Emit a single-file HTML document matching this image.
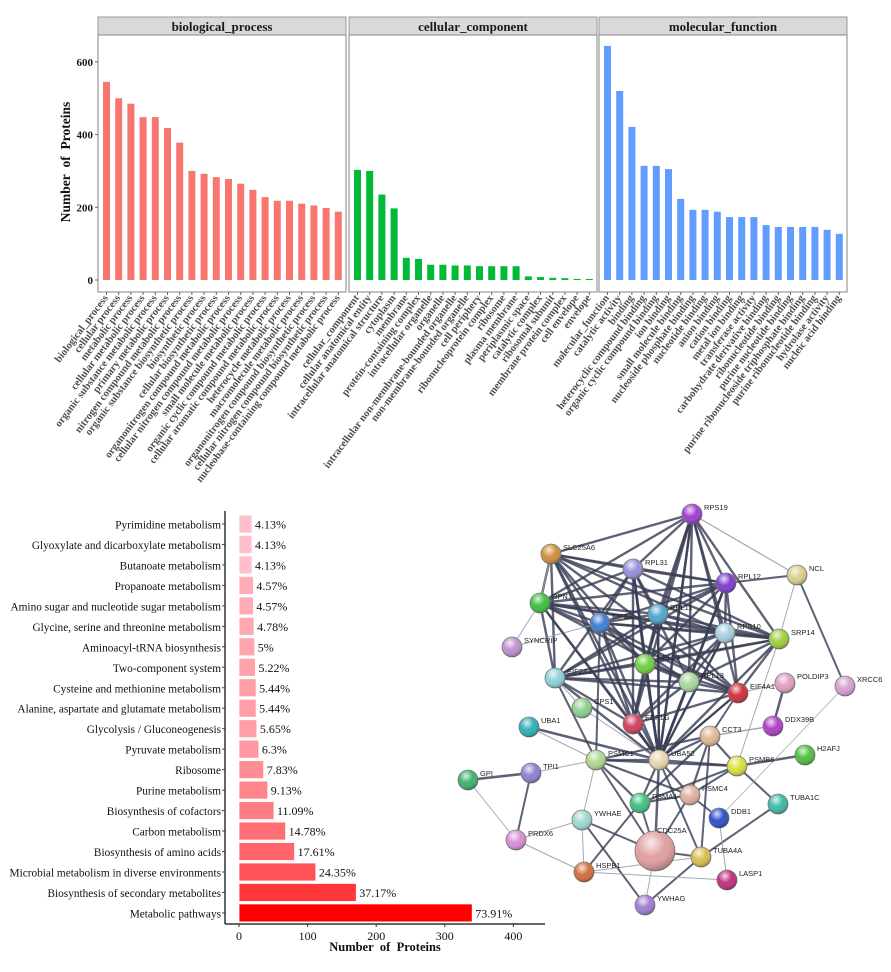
<!DOCTYPE html>
<html><head><meta charset="utf-8"><style>
html,body{margin:0;padding:0;background:#fff;}
svg{display:block;}
</style></head><body>
<svg id="s" width="891" height="972" xmlns="http://www.w3.org/2000/svg" font-family="Liberation Serif, serif"></svg>
<script>
const S=document.getElementById('s');let h='';
function t(x,y,s,o){h+=`<text x="${x}" y="${y}" ${o||''}>${s}</text>`;}
const y0=280,k=0.3635;
const panels=[
 {x:98,n:'biological_process',c:'#F8766D',v:[545,500,485,448,448,418,378,300,292,283,278,265,248,228,218,218,210,205,198,188],
  l:['biological_process','cellular process','metabolic process','cellular metabolic process','organic substance metabolic process','primary metabolic process','nitrogen compound metabolic process','organic substance biosynthetic process','biosynthetic process','cellular biosynthetic process','organonitrogen compound metabolic process','cellular nitrogen compound metabolic process','small molecule metabolic process','organic cyclic compound metabolic process','cellular aromatic compound metabolic process','heterocycle metabolic process','macromolecule metabolic process','organonitrogen compound biosynthetic process','cellular nitrogen compound biosynthetic process','nucleobase-containing compound metabolic process']},
 {x:349,n:'cellular_component',c:'#00BA38',v:[303,300,235,197,61,58,42,42,40,40,38,38,38,38,10,8,6,5,3,3],
  l:['cellular_component','cellular anatomical entity','intracellular anatomical structure','cytoplasm','membrane','protein-containing complex','intracellular organelle','organelle','intracellular non-membrane-bounded organelle','non-membrane-bounded organelle','cell periphery','ribonucleoprotein complex','ribosome','plasma membrane','periplasmic space','catalytic complex','ribosomal subunit','membrane protein complex','cell envelope','envelope']},
 {x:599,n:'molecular_function',c:'#619CFF',v:[644,520,421,314,314,305,223,193,193,188,173,173,173,151,146,146,146,146,138,127],
  l:['molecular_function','catalytic activity','binding','heterocyclic compound binding','organic cyclic compound binding','ion binding','small molecule binding','nucleoside phosphate binding','nucleotide binding','anion binding','cation binding','metal ion binding','transferase activity','carbohydrate derivative binding','ribonucleotide binding','purine nucleotide binding','purine ribonucleoside triphosphate binding','purine ribonucleotide binding','hydrolase activity','nucleic acid binding']}];
for(const p of panels){
 const w=248;
 h+=`<rect x="${p.x}" y="17" width="${w}" height="18" fill="#d9d9d9" stroke="#999" stroke-width="1"/>`;
 t(p.x+w/2,31,p.n,'text-anchor="middle" font-size="13" font-weight="bold" fill="#1a1a1a"');
 h+=`<rect x="${p.x}" y="35" width="${w}" height="257" fill="#fff" stroke="#999" stroke-width="1.2"/>`;
 p.v.forEach((v,i)=>{const cx=p.x+8.5+i*12.2;
  h+=`<rect x="${cx-3.5}" y="${y0-v*k}" width="7" height="${v*k}" fill="${p.c}"/>`;
  h+=`<line x1="${cx}" y1="292" x2="${cx}" y2="295" stroke="#666"/>`;
  t(cx+2,298,p.l[i],`text-anchor="end" font-size="10.5" font-weight="bold" fill="#4d4d4d" transform="rotate(-53 ${cx+2} 298)"`);
 });
}
[0,200,400,600].forEach(v=>{const y=y0-v*k;t(93,y+4,v,'text-anchor="end" font-size="11" font-weight="bold" fill="#1a1a1a"');h+=`<line x1="95" y1="${y}" x2="98" y2="${y}" stroke="#666"/>`;});
t(70,162,'Number&#160; of&#160; Proteins','text-anchor="middle" font-size="13.5" font-weight="bold" fill="#111" transform="rotate(-90 70 162)"');
const rows=[['Pyrimidine metabolism',4.13],['Glyoxylate and dicarboxylate metabolism',4.13],['Butanoate metabolism',4.13],['Propanoate metabolism',4.57],['Amino sugar and nucleotide sugar metabolism',4.57],['Glycine, serine and threonine metabolism',4.78],['Aminoacyl-tRNA biosynthesis',5],['Two-component system',5.22],['Cysteine and methionine metabolism',5.44],['Alanine, aspartate and glutamate metabolism',5.44],['Glycolysis / Gluconeogenesis',5.65],['Pyruvate metabolism',6.3],['Ribosome',7.83],['Purine metabolism',9.13],['Biosynthesis of cofactors',11.09],['Carbon metabolism',14.78],['Biosynthesis of amino acids',17.61],['Microbial metabolism in diverse environments',24.35],['Biosynthesis of secondary metabolites',37.17],['Metabolic pathways',73.91]];
const x0=239,kx=0.686;
rows.forEach((r,i)=>{const y=524+i*20.47;const v=r[1]*4.6;
 const f=Math.min(1,(r[1]-4.13)/70);const g=Math.round(192*(1-Math.pow(f,0.45))),b=Math.round(203*(1-Math.pow(f,0.45)));
 h+=`<rect x="${x0}" y="${y-9}" width="${v*kx}" height="18" fill="rgb(255,${g},${b})" stroke="#fff" stroke-width="0.8"/>`;
 t(x0+v*kx+3,y+4.5,r[1]+'%','font-size="12" fill="#111"');
 t(221,y+4.5,r[0],'text-anchor="end" font-size="11.3" fill="#111"');
 h+=`<line x1="222" y1="${y}" x2="225" y2="${y}" stroke="#444"/>`;
});
h+=`<line x1="225" y1="511" x2="225" y2="924" stroke="#333" stroke-width="1.5"/><line x1="225" y1="924" x2="545" y2="924" stroke="#333" stroke-width="1.5"/>`;
[0,100,200,300,400].forEach(v=>{const x=x0+v*kx;h+=`<line x1="${x}" y1="924" x2="${x}" y2="927" stroke="#333"/>`;t(x,940,v,'text-anchor="middle" font-size="12" fill="#111"');});
t(385,951,'Number&#160; of&#160; Proteins','text-anchor="middle" font-size="12.5" font-weight="bold" fill="#111"');
const N={RPS19:[692,514,'#a040d0'],SLC25A6:[551,554,'#d09040'],RPL31:[633,569,'#9890d8'],RPL12:[726,583,'#8040d0'],NCL:[797,575,'#d8d090'],RPN1:[540,603,'#40c040'],EIF3A:[600,623,'#4080d0'],RPL11:[658,614,'#50a8d0'],RPS10:[725,633,'#a8d0e0'],SRP14:[779,639,'#a0d040'],SYNCRIP:[512,647,'#c090d0'],RPL23:[645,664,'#70d040'],EIF2S1:[555,678,'#90d0d8'],RPL13:[689,682,'#a8d8a0'],EIF4A1:[738,693,'#d03040'],POLDIP3:[785,683,'#e0a0c0'],XRCC6:[845,686,'#d8a0d0'],CPS1:[582,708,'#90d090'],EEF1G:[633,724,'#d04060'],UBA1:[529,727,'#30b0b8'],DDX39B:[773,726,'#b040c8'],CCT3:[710,736,'#e0b898'],H2AFJ:[805,755,'#50c040'],PSMC1:[596,760,'#b0d890'],UBA52:[659,760,'#e8d8b0'],PSMB6:[737,766,'#d8e040'],GPI:[468,780,'#40b070'],TPI1:[531,773,'#9080d0'],PSMA1:[640,803,'#40c080'],PSMC4:[690,795,'#e0b0a0'],TUBA1C:[778,804,'#40b8a8'],YWHAE:[582,820,'#a0d8d0'],DDB1:[719,818,'#3050c8'],PRDX6:[516,840,'#d890d8'],CDC25A:[655,851,'#e0a0a0'],TUBA4A:[701,857,'#d8c050'],HSPB1:[584,872,'#d07040'],LASP1:[727,880,'#c03080'],YWHAG:[645,905,'#a080d0']};
const core=['RPS19','SLC25A6','RPL31','RPL12','RPN1','EIF3A','RPL11','RPS10','SRP14','RPL23','EIF2S1','RPL13','EIF4A1','EEF1G','UBA52'];
const E=[];
for(let i=0;i<core.length;i++)for(let j=i+1;j<core.length;j++){if((i*7+j*3)%5!==0)E.push([core[i],core[j],2.4]);}
const ps=['PSMC1','UBA52','PSMB6','PSMA1','PSMC4','CCT3'];
for(let i=0;i<ps.length;i++)for(let j=i+1;j<ps.length;j++)E.push([ps[i],ps[j],2.2]);
[['GPI','TPI1',2.5],['TPI1','PRDX6',2],['GPI','PRDX6',1],['PRDX6','YWHAE',1],['PRDX6','HSPB1',1],['YWHAE','CDC25A',2],['YWHAE','YWHAG',2],['HSPB1','TUBA4A',1],['CDC25A','TUBA4A',2],['TUBA4A','TUBA1C',2],['PSMB6','TUBA1C',2],['NCL','XRCC6',2],['RPS19','NCL',1.2],['NCL','RPL12',2],['NCL','SRP14',1],['POLDIP3','DDX39B',2.5],['DDX39B','CCT3',1.5],['H2AFJ','PSMB6',2.5],['DDB1','LASP1',1],['DDB1','PSMC4',2],['UBA1','UBA52',2.5],['UBA1','PSMC1',1],['SYNCRIP','RPN1',1],['SYNCRIP','EIF3A',1],['SLC25A6','RPN1',1],['CPS1','UBA52',1],['CPS1','EIF2S1',1],['TPI1','PSMC1',1],['PSMC1','YWHAE',1],['PSMC1','CDC25A',2],['UBA52','CDC25A',2.5],['PSMA1','CDC25A',2],['PSMC4','CDC25A',2],['HSPB1','PSMA1',2],['CDC25A','YWHAG',1],['TUBA4A','YWHAG',2],['UBA52','TUBA4A',2],['CCT3','TUBA4A',2],['HSPB1','LASP1',1],['XRCC6','DDB1',0.8],['EEF1G','UBA52',2.5],['RPL13','UBA52',2.5],['RPL23','UBA52',2.5],['EIF2S1','PSMC1',2],['EIF3A','PSMC1',2],['RPN1','UBA52',2],['RPL11','UBA52',2.5],['RPL12','UBA52',2.5],['RPS10','UBA52',2],['EIF4A1','UBA52',2],['EIF4A1','POLDIP3',1],['EIF4A1','CCT3',2],['RPS19','UBA52',2.5],['RPL31','UBA52',2.5],['SRP14','PSMB6',1],['YWHAE','HSPB1',1]].forEach(e=>E.push(e));
for(const [a,b,w] of E){const A=N[a],B=N[b];h+=`<line x1="${A[0]}" y1="${A[1]}" x2="${B[0]}" y2="${B[1]}" stroke="${w>1.5?'#3a4055':'#9aa0aa'}" stroke-width="${w}" stroke-opacity="${w>1.5?0.82:0.9}"/>`;}
h+='<defs><radialGradient id="gl" cx="0.4" cy="0.3" r="0.7"><stop offset="0" stop-color="#fff" stop-opacity="0.8"/><stop offset="0.5" stop-color="#fff" stop-opacity="0"/><stop offset="1" stop-color="#000" stop-opacity="0.25"/></radialGradient></defs>';
for(const k in N){const [x,y,c]=N[k];const r=k=='CDC25A'?20:10;
 h+=`<circle cx="${x}" cy="${y}" r="${r}" fill="${c}" stroke="#777" stroke-width="0.8"/><circle cx="${x}" cy="${y}" r="${r}" fill="url(#gl)"/>`;
 t(x+(k=='CDC25A'?2:12),y-(k=='CDC25A'?18:4),k,'font-family="Liberation Sans, sans-serif" font-size="7.5" fill="#222"');}
S.innerHTML=h;
</script>
</body></html>
